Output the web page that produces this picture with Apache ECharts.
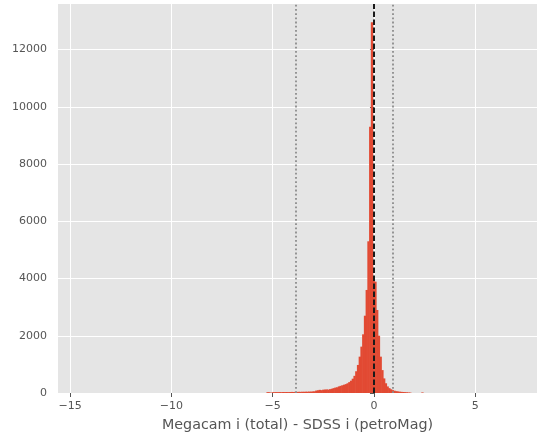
<!DOCTYPE html>
<html>
<head>
<meta charset="utf-8">
<script src="https://cdn.jsdelivr.net/npm/echarts@6/dist/echarts.min.js"></script>
<style>
  html, body { margin: 0; padding: 0; background: #fff; }
  #chart { width: 538px; height: 438px; }
</style>
</head>
<body>
<div id="chart"></div>
<script>
// Histogram: Megacam i (total) - SDSS i (petroMag)
const binStart = -5.309; // left edge of the first listed bin
const binWidth = 0.0859;
const counts = [
  30, 28, 8, 28, 30, 32, 30, 33, 30, 35,
  32, 35, 33, 36, 38, 35, 40, 38, 42, 40,
  44, 42, 46, 45, 50, 48, 55, 60, 85, 95,
  110, 100, 115, 120, 125, 118, 135, 150, 170, 190,
  200, 230, 250, 270, 290, 310, 340, 380, 430, 500,
  600, 760, 980, 1270, 1620, 2050, 2700, 3600, 5300, 9300,
  12950, 4000, 3890, 2900, 2000, 1270, 800, 510, 340, 230,
  170, 130, 100, 80, 65, 55, 45, 40, 35, 30,
  25, 20, 15, 0, 0, 0, 0, 0, 0, 20
];

// vertical reference lines
const dottedLines = [-3.87, 0.91];
const dashedLines = [-0.03];

const xTicks = [-15, -10, -5, 0, 5];
const yTicks = [0, 2000, 4000, 6000, 8000, 10000, 12000];
const xRange = [-15.6, 8.05];
const yRange = [0, 13590];

const font = "DejaVu Sans";
const minus = (v) => String(v).replace("-", "\u2212");

// [left edge, right edge, count]
const bins = [];
counts.forEach((c, i) => {
  if (c > 0) bins.push([binStart + i * binWidth, binStart + (i + 1) * binWidth, c]);
});

const markData = [];
dottedLines.forEach((x) => {
  markData.push({ xAxis: x, lineStyle: { color: "#8c8c8c", width: 1.8, type: [1.8, 2.4] } });
});
dashedLines.forEach((x) => {
  markData.push({ xAxis: x, lineStyle: { color: "#1a1a1a", width: 2, type: [5.5, 2.5] } });
});

const option = {
  animation: false,
  textStyle: { fontFamily: font },
  grid: {
    left: 58,
    right: 1,
    top: 4,
    bottom: 45,
    show: true,
    backgroundColor: "#E5E5E5",
    borderWidth: 0,
  },
  xAxis: {
    type: "value",
    min: xRange[0],
    max: xRange[1],
    name: "Megacam i (total) - SDSS i (petroMag)",
    nameLocation: "middle",
    nameGap: 25,
    nameTextStyle: { color: "#555555", fontSize: 14.3, fontFamily: font },
    axisLine: { show: false },
    axisTick: { show: true, customValues: xTicks, length: 4, lineStyle: { color: "#555555" } },
    axisLabel: {
      customValues: xTicks,
      formatter: minus,
      color: "#555555",
      fontSize: 11,
      fontFamily: font,
      margin: 8,
    },
    splitLine: { show: true, lineStyle: { color: "#ffffff", width: 1 } },
  },
  yAxis: {
    type: "value",
    min: yRange[0],
    max: yRange[1],
    axisLine: { show: false },
    axisTick: { show: true, customValues: yTicks, length: 4, lineStyle: { color: "#555555" } },
    axisLabel: {
      customValues: yTicks,
      formatter: (v) => String(v),
      color: "#555555",
      fontSize: 11,
      fontFamily: font,
      margin: 11,
    },
    splitLine: { show: true, lineStyle: { color: "#ffffff", width: 1 } },
  },
  series: [
    {
      type: "custom",
      data: bins,
      encode: { x: [0, 1], y: 2 },
      renderItem: function (params, api) {
        const p0 = api.coord([api.value(0), 0]);
        const p1 = api.coord([api.value(1), api.value(2)]);
        // small overlap so neighbouring bars do not show seams
        return {
          type: "rect",
          shape: { x: p0[0], y: p1[1], width: p1[0] - p0[0] + 0.6, height: p0[1] - p1[1] },
          style: { fill: "#E24A33" },
        };
      },
      markLine: {
        silent: true,
        symbol: ["none", "none"],
        label: { show: false },
        data: markData,
      },
    },
  ],
};

const chart = echarts.init(document.getElementById("chart"));
chart.setOption(option);
window.addEventListener("resize", () => chart.resize());
</script>
</body>
</html>
